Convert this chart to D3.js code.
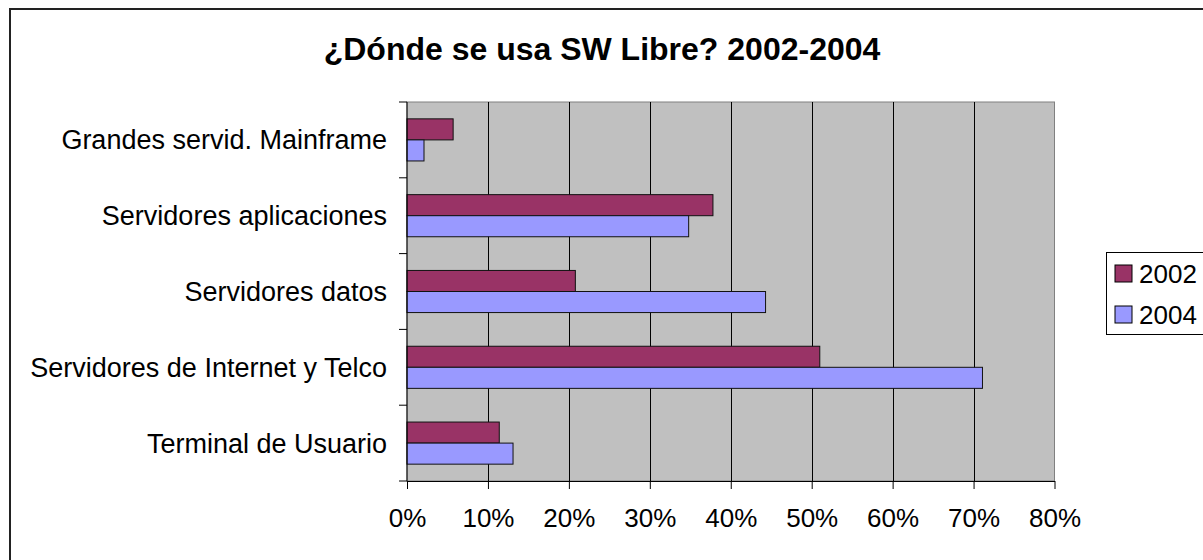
<!DOCTYPE html>
<html>
<head>
<meta charset="utf-8">
<script src="https://cdn.jsdelivr.net/npm/d3@7"></script>
<style>
  body { margin: 0; background: #fff; }
  svg text { font-family: "Liberation Sans", Arial, sans-serif; fill: #000; }
</style>
</head>
<body>
<svg id="chart"></svg>
<script>
const categories = [
  "Grandes servid. Mainframe",
  "Servidores aplicaciones",
  "Servidores datos",
  "Servidores de Internet y Telco",
  "Terminal de Usuario"
];
const seriesNames = ["2002", "2004"];
const values2002 = [5.7, 37.8, 20.8, 51.0, 11.4];
const values2004 = [2.1, 34.8, 44.3, 71.1, 13.1];
const xTicks = [0, 10, 20, 30, 40, 50, 60, 70, 80];
const title = "¿Dónde se usa SW Libre? 2002-2004";

const WIDTH = 1203;
const HEIGHT = 560;
const plot = { left: 407, right: 1054.5, top: 102, bottom: 481 };
const colors = { "2002": "#993366", "2004": "#9999FF" };

const rows = categories.map((c, i) => ({
  category: c,
  values: [
    { key: "2002", value: values2002[i] },
    { key: "2004", value: values2004[i] }
  ]
}));

const svg = d3.select("#chart").attr("width", WIDTH).attr("height", HEIGHT);

// outer chart border
svg.append("rect")
  .attr("x", 10).attr("y", 9)
  .attr("width", WIDTH + 20).attr("height", HEIGHT + 20)
  .attr("fill", "#fff")
  .attr("stroke", "#222").attr("stroke-width", 2);

svg.append("text")
  .attr("x", 602).attr("y", 60)
  .attr("text-anchor", "middle")
  .attr("font-size", 32)
  .attr("font-weight", "bold")
  .text(title);

const xScale = d3.scaleLinear().domain([0, 80]).range([plot.left, plot.right]);
const yScale = d3.scaleBand().domain(categories).range([plot.top, plot.bottom]);
const ySub = d3.scaleBand().domain(seriesNames).range([0, yScale.bandwidth()]).paddingOuter(0.8);

// plot background
svg.append("rect")
  .attr("x", plot.left).attr("y", plot.top)
  .attr("width", plot.right - plot.left).attr("height", plot.bottom - plot.top)
  .attr("fill", "#C0C0C0")
  .attr("stroke", "#808080").attr("stroke-width", 1);

// gridlines
svg.append("g")
  .selectAll("line")
  .data(xTicks.slice(1, -1))
  .enter().append("line")
  .attr("x1", d => Math.round(xScale(d)) + 0.5)
  .attr("x2", d => Math.round(xScale(d)) + 0.5)
  .attr("y1", plot.top).attr("y2", plot.bottom)
  .attr("stroke", "#000").attr("stroke-width", 1);

// bars
const groups = svg.append("g")
  .selectAll("g")
  .data(rows)
  .enter().append("g")
  .attr("transform", d => `translate(0,${yScale(d.category)})`);

groups.selectAll("rect")
  .data(d => d.values)
  .enter().append("rect")
  .attr("x", xScale(0))
  .attr("y", d => ySub(d.key))
  .attr("width", d => xScale(d.value) - xScale(0))
  .attr("height", ySub.bandwidth())
  .attr("fill", d => colors[d.key])
  .attr("stroke", "#111").attr("stroke-width", 1);

// x axis
const axisX = svg.append("g")
  .attr("transform", `translate(0,${plot.bottom})`)
  .call(d3.axisBottom(xScale).tickValues(xTicks).tickFormat(d => d + "%").tickSizeInner(8).tickSizeOuter(0).tickPadding(20));
axisX.select(".domain").attr("stroke", "#000");
axisX.selectAll("text").attr("font-size", 26).attr("font-family", "Liberation Sans, Arial, sans-serif");

// y axis: ticks at category boundaries
const axisY = svg.append("g").attr("transform", `translate(${plot.left},0)`);
axisY.append("line")
  .attr("x1", 0).attr("x2", 0)
  .attr("y1", plot.top).attr("y2", plot.bottom)
  .attr("stroke", "#000");
const boundaries = categories.map(c => yScale(c)).concat([plot.bottom]);
axisY.selectAll("line.tick")
  .data(boundaries)
  .enter().append("line")
  .attr("class", "tick")
  .attr("x1", -8).attr("x2", 0)
  .attr("y1", d => d).attr("y2", d => d)
  .attr("stroke", "#000");
axisY.selectAll("text")
  .data(categories)
  .enter().append("text")
  .attr("x", -20)
  .attr("y", d => yScale(d) + yScale.bandwidth() / 2)
  .attr("dy", "0.35em")
  .attr("text-anchor", "end")
  .attr("font-size", 27)
  .text(d => d);

// legend
const legend = svg.append("g").attr("transform", "translate(1106,252)");
legend.append("rect")
  .attr("x", 0.5).attr("y", 0.5)
  .attr("width", 140).attr("height", 82)
  .attr("fill", "#fff").attr("stroke", "#000");
const items = legend.selectAll("g.item")
  .data(seriesNames)
  .enter().append("g")
  .attr("class", "item")
  .attr("transform", (d, i) => `translate(9,${13 + i * 41})`);
items.append("rect")
  .attr("width", 17).attr("height", 17)
  .attr("fill", d => colors[d])
  .attr("stroke", "#000");
items.append("text")
  .attr("x", 24).attr("y", 18)
  .attr("font-size", 26)
  .text(d => d);
</script>
</body>
</html>
